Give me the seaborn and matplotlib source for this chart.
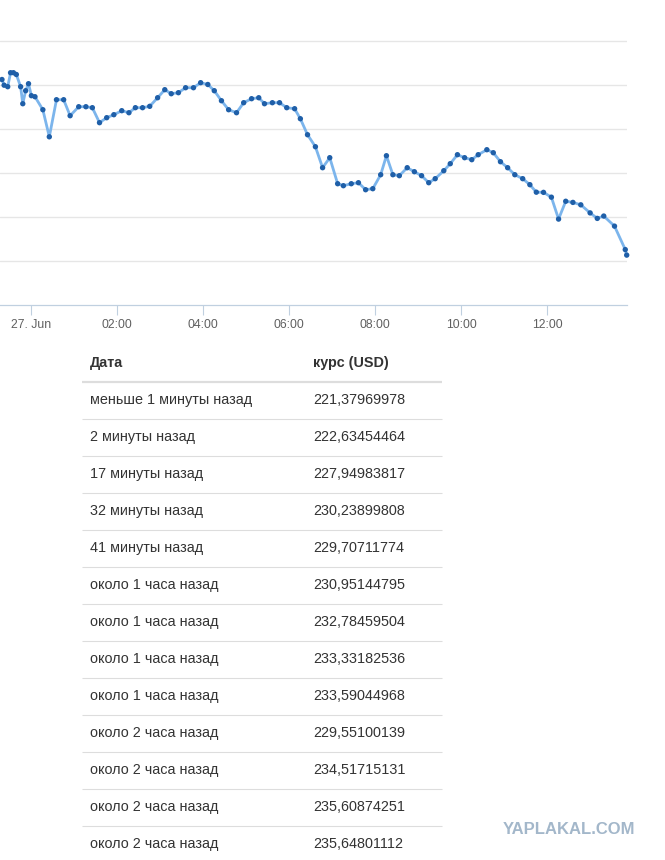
import pandas as pd
import matplotlib
matplotlib.use('Agg')
import matplotlib.pyplot as plt
import matplotlib.dates as mdates
import seaborn as sns

# --- chart data: 10-minute quotes, 26-27 Jun (HH:MM, 23:xx belongs to 26 Jun) ---
early_times = [
    '23:20', '23:23', '23:28', '23:32', '23:36', '23:40', '23:46', '23:49', '23:53', '23:57',
    '00:01', '00:06', '00:17', '00:26', '00:36', '00:46', '00:55', '01:07', '01:17', '01:26',
    '01:36', '01:46', '01:56', '02:07', '02:17', '02:26', '02:36', '02:46', '02:57', '03:07',
    '03:16', '03:26', '03:36', '03:47', '03:57', '04:07', '04:16', '04:26', '04:36', '04:47',
    '04:57', '05:08', '05:18', '05:26', '05:37', '05:47', '05:57', '06:08', '06:16', '06:26',
    '06:37', '06:47', '06:57', '07:08', '07:16', '07:27', '07:37', '07:47', '07:57', '08:08',
    '08:16', '08:25', '08:34', '08:45', '08:55', '09:05', '09:15', '09:24', '09:36', '09:45',
    '09:55', '10:05', '10:15', '10:24', '10:36', '10:45', '10:55', '11:05', '11:15', '11:26',
    '11:36',
]
early_rates = [
    261.20, 259.91, 259.57, 262.74, 262.74, 262.34, 259.57, 255.71, 258.66, 260.25,
    257.53, 257.30, 254.35, 248.21, 256.62, 256.62, 252.99, 255.03, 255.03, 254.81,
    251.41, 252.54, 253.22, 254.13, 253.67, 254.81, 254.81, 255.12, 257.07, 258.89,
    257.98, 258.21, 259.34, 259.34, 260.48, 260.07, 258.66, 256.39, 254.35, 253.67,
    255.94, 256.85, 257.07, 255.71, 255.94, 255.94, 254.81, 254.58, 252.31, 248.68,
    245.96, 241.20, 243.47, 237.57, 237.12, 237.57, 237.80, 236.21, 236.44, 239.61,
    243.92, 239.61, 239.39, 241.20, 240.29, 239.39, 237.80, 238.71, 240.52, 242.11,
    244.15, 243.47, 243.02, 244.15, 245.28, 244.60, 242.56, 241.20, 239.61, 238.71,
    237.35,
]

# --- table data (newest first) ---
table_ago = [
    'меньше 1 минуты назад', '2 минуты назад', '17 минуты назад', '32 минуты назад',
    '41 минуты назад', 'около 1 часа назад', 'около 1 часа назад', 'около 1 часа назад',
    'около 1 часа назад', 'около 2 часа назад', 'около 2 часа назад', 'около 2 часа назад',
    'около 2 часа назад',
]
table_rates = [
    '221,37969978', '222,63454464', '227,94983817', '230,23899808', '229,70711774',
    '230,95144795', '232,78459504', '233,33182536', '233,59044968', '229,55100139',
    '234,51715131', '235,60874251', '235,64801112',
]
table_times = ['13:51', '13:49', '13:34', '13:19', '13:10', '13:00', '12:47',
               '12:36', '12:26', '12:16', '12:06', '11:55', '11:45']

x_ticks = ['00:00', '02:00', '04:00', '06:00', '08:00', '10:00', '12:00']
y_grid = [220, 230, 240, 250, 260, 270]


def stamp(t):
    day = '2015-06-26' if t.startswith('23') else '2015-06-27'
    return pd.Timestamp(f'{day} {t}')


times = [stamp(t) for t in early_times + table_times[::-1]]
rates = early_rates + [float(r.replace(',', '.')) for r in table_rates[::-1]]
df = pd.DataFrame({'time': times, 'rate': rates})

sns.set_style('white')
plt.rcParams['font.family'] = ['Liberation Sans', 'DejaVu Sans']

W, H = 665, 860
fig = plt.figure(figsize=(W / 100, H / 100), dpi=100)

# table layer (pixel coordinates)
tab = fig.add_axes([0, 0, 1, 1])
tab.set_xlim(0, W)
tab.set_ylim(H, 0)
tab.axis('off')

# chart
ax = fig.add_axes([0, 1 - 305.3 / H, 626.7 / W, 305.3 / H])
ax.patch.set_alpha(0)

sns.lineplot(data=df, x='time', y='rate', ax=ax, color='#7cb5ec', linewidth=2,
             zorder=3, clip_on=False)
sns.scatterplot(data=df, x='time', y='rate', ax=ax, color='#1f5fa8', s=15,
                edgecolor='none', zorder=4, clip_on=False)

ax.set_xlim(pd.Timestamp('2015-06-26 23:17:15'), pd.Timestamp('2015-06-27 13:51'))
ax.set_ylim(210, 279.23)
ax.set_yticks(y_grid)
ax.set_yticklabels([])
ax.tick_params(axis='y', length=0, left=False)
ax.grid(axis='y', color='#e6e6e6', linewidth=1)
ax.set_axisbelow(True)

ax.set_xticks([stamp(t) for t in x_ticks])
ax.xaxis.set_major_formatter(mdates.DateFormatter('%H:%M'))
labels = ['27. Jun' if t == '00:00' else t for t in x_ticks]
ax.set_xticklabels(labels)
ax.tick_params(axis='x', bottom=True, direction='out', length=7, width=0.8,
               color='#c0d0e0', labelsize=8.8, labelcolor='#606060', pad=3)

for side in ['top', 'left', 'right']:
    ax.spines[side].set_visible(False)
ax.spines['bottom'].set_color('#c0d0e0')
ax.spines['bottom'].set_linewidth(0.9)
ax.set_xlabel('')
ax.set_ylabel('')

# table
tab.text(90, 363, 'Дата', fontsize=10.4, fontweight='bold', color='#333333', va='center')
tab.text(313, 363, 'курс (USD)', fontsize=10.4, fontweight='bold', color='#333333', va='center')
tab.hlines(382, 82, 442, color='#dddddd', linewidth=1.6)
for i, (ago, rate) in enumerate(zip(table_ago, table_rates)):
    y = 400 + 37 * i
    tab.text(90, y, ago, fontsize=10.4, color='#333333', va='center')
    tab.text(313, y, rate, fontsize=10.4, color='#333333', va='center')
    tab.hlines(y + 19, 82, 442, color='#dddddd', linewidth=0.8)

tab.text(569, 829, 'YAPLAKAL.COM', fontsize=12, fontweight='heavy', color='#a3b7ca',
         ha='center', va='center')

plt.savefig('out.png', dpi=100)
plt.close()
